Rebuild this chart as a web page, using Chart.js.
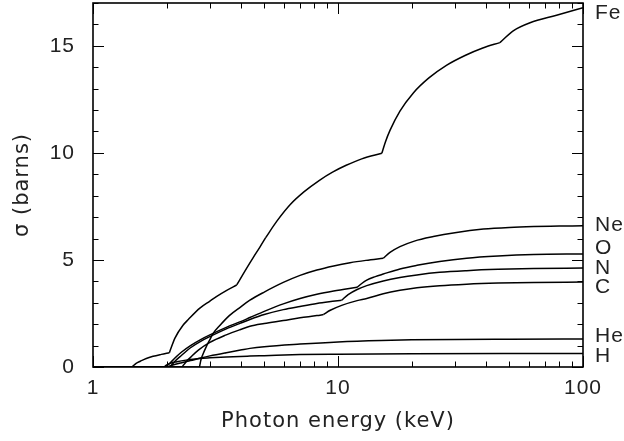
<!DOCTYPE html>
<html><head><meta charset="utf-8">
<script src="https://cdn.jsdelivr.net/npm/chart.js@4.4.1/dist/chart.umd.min.js"></script>
<style>html,body{margin:0;padding:0;background:#fff;}canvas{display:block;}</style>
</head><body>
<canvas id="c" width="624" height="441"></canvas>
<script>
// ---- data (photon energy in keV, cross section in barns) ----
const feE = [1, 1.44, 1.5, 1.56, 1.65, 1.76, 1.9, 2.05, 2.16, 2.33, 2.45, 2.73, 3.0, 3.2, 3.5, 3.86, 4.24, 4.5, 4.8, 5.06, 5.62, 6.4, 7.3, 8.4, 9.5, 10.8, 12.5, 15.1, 15.6, 16.3, 17.9, 20.3, 23.5, 27.8, 33, 39, 45.8, 51.9, 60.8, 78, 100];
const feS = [0, 0, 0.17, 0.27, 0.4, 0.5, 0.59, 0.67, 1.35, 1.95, 2.22, 2.75, 3.08, 3.3, 3.57, 3.83, 4.62, 5.1, 5.6, 6.03, 6.8, 7.6, 8.2, 8.72, 9.1, 9.42, 9.72, 9.98, 10.5, 11.05, 11.95, 12.8, 13.5, 14.1, 14.55, 14.9, 15.15, 15.7, 16.08, 16.43, 16.78];
const feEdges = [1.44, 2.05, 3.86, 5.06, 15.1, 45.8];

const neE = [1, 2.72, 2.76, 2.8, 2.9, 3.0, 3.09, 3.3, 3.6, 4.0, 4.37, 5.0, 5.98, 7.0, 8.2, 9.6, 11.2, 13.0, 15.3, 16.3, 17.9, 20.5, 24.5, 30, 39.2, 50, 62.9, 80, 100];
const neS = [0, 0, 0.35, 0.55, 0.95, 1.28, 1.56, 1.95, 2.4, 2.8, 3.12, 3.5, 3.95, 4.28, 4.53, 4.72, 4.87, 4.98, 5.08, 5.35, 5.62, 5.88, 6.09, 6.27, 6.44, 6.52, 6.56, 6.58, 6.6];
const neEdges = [2.72, 15.3];

const oE = [1, 1.97, 2.05, 2.15, 2.3, 2.5, 2.75, 3.0, 3.5, 4.0, 4.37, 5.0, 5.98, 7.0, 8.2, 9.6, 11.97, 12.5, 13.1, 14.2, 15.3, 17.9, 21, 26, 33.5, 45, 62.9, 100];
const oS = [0, 0, 0.15, 0.4, 0.7, 1.0, 1.28, 1.5, 1.85, 2.12, 2.31, 2.6, 2.95, 3.2, 3.4, 3.55, 3.72, 3.9, 4.06, 4.22, 4.34, 4.58, 4.75, 4.93, 5.08, 5.18, 5.25, 5.28];
const oEdges = [1.97, 11.97];

const nE = [1, 2.06, 2.15, 2.3, 2.5, 2.75, 3.0, 3.5, 4.0, 4.37, 5.0, 5.98, 7.0, 8.2, 9.2, 10.35, 11.0, 11.97, 13.1, 15.3, 17.9, 21, 26, 33.5, 45, 62.9, 100];
const nS = [0, 0, 0.25, 0.55, 0.9, 1.2, 1.42, 1.78, 2.05, 2.22, 2.45, 2.68, 2.83, 2.97, 3.05, 3.12, 3.38, 3.62, 3.8, 4.02, 4.18, 4.3, 4.42, 4.5, 4.56, 4.6, 4.62];
const nEdges = [2.06, 10.35];

const cE = [1, 2.31, 2.4, 2.5, 2.7, 3.0, 3.5, 4.0, 4.37, 5.0, 5.98, 7.0, 8.2, 8.72, 9.3, 10.35, 11.97, 13.1, 15.3, 17.9, 21, 26, 33.5, 45, 62.9, 100];
const cS = [0, 0, 0.25, 0.45, 0.8, 1.15, 1.5, 1.75, 1.9, 2.03, 2.17, 2.3, 2.4, 2.45, 2.65, 2.88, 3.1, 3.2, 3.42, 3.58, 3.7, 3.8, 3.87, 3.92, 3.95, 3.97];
const cEdges = [2.31, 8.72];

const heE = [1, 2.0, 2.1, 2.3, 2.5, 2.75, 3.0, 3.5, 4.0, 4.37, 5.0, 7.0, 10, 15, 20, 30, 50, 100];
const heS = [0, 0, 0.08, 0.2, 0.3, 0.42, 0.52, 0.67, 0.79, 0.87, 0.95, 1.07, 1.17, 1.24, 1.27, 1.29, 1.3, 1.31];
const heEdges = [2.0];

const hE = [1, 1.95, 2.0, 2.2, 2.5, 2.73, 3.0, 3.5, 4.37, 5.0, 7.0, 10, 20, 50, 100];
const hS = [0, 0, 0.1, 0.25, 0.35, 0.4, 0.43, 0.47, 0.51, 0.53, 0.58, 0.6, 0.62, 0.63, 0.63];
const hEdges = [1.95];

const elementNames = ['Fe', 'Ne', 'O', 'N', 'C', 'He', 'H'];
const xTickValues = [1, 10, 100];
const yTickValues = [0, 5, 10, 15];
const xTitle = 'Photon energy (keV)';
const yTitle = 'σ (barns)';

// ---- build datasets (each curve split at its edges so kinks stay sharp) ----
const series = [
  [feE, feS, feEdges], [neE, neS, neEdges], [oE, oS, oEdges], [nE, nS, nEdges],
  [cE, cS, cEdges], [heE, heS, heEdges], [hE, hS, hEdges]
];
const datasets = [];
const endPoints = [];
series.forEach(([E, S, edges], k) => {
  let cur = [];
  for (let i = 0; i < E.length; i++) {
    cur.push({x: E[i], y: S[i]});
    if (edges.includes(E[i]) && cur.length > 1 && i < E.length - 1) {
      datasets.push(mk(cur, k));
      cur = [{x: E[i], y: S[i]}];
    }
  }
  if (cur.length > 1) datasets.push(mk(cur, k));
  endPoints.push({name: elementNames[k], x: E[E.length - 1], y: S[S.length - 1]});
});
function mk(pts, k) {
  return {
    label: elementNames[k], data: pts,
    borderColor: '#000', borderWidth: 1.5, pointRadius: 0,
    cubicInterpolationMode: 'monotone', fill: false
  };
}

const TXT = '#222';
const labelFont = '21px "Liberation Sans", Arial, sans-serif';

const framePlugin = {
  id: 'frame',
  beforeDraw(chart) { chart.ctx.letterSpacing = '1px'; },
  afterDraw(chart) {
    const {ctx, chartArea: a, scales: {x, y}} = chart;
    ctx.save();
    ctx.strokeStyle = '#000';
    ctx.lineWidth = 1;
    ctx.beginPath();
    for (let v = Math.ceil(y.min); v <= y.max; v++) {
      const py = Math.round(y.getPixelForValue(v)) + 0.5;
      const len = v % 5 === 0 ? 11 : 5.5;
      ctx.moveTo(a.left, py); ctx.lineTo(a.left + len, py);
      ctx.moveTo(a.right, py); ctx.lineTo(a.right - len, py);
    }
    for (let d = 1; d < x.max; d *= 10) {
      for (let m = 1; m <= 10; m++) {
        const v = m * d;
        if (v < x.min || v > x.max) continue;
        const px = Math.round(x.getPixelForValue(v)) + 0.5;
        const len = (m === 1 || m === 10) ? 11 : 5.5;
        ctx.moveTo(px, a.bottom); ctx.lineTo(px, a.bottom - len);
        ctx.moveTo(px, a.top); ctx.lineTo(px, a.top + len);
      }
    }
    ctx.stroke();
    ctx.lineWidth = 1.6;
    ctx.strokeRect(a.left, a.top, a.right - a.left, a.bottom - a.top);

    const items = endPoints.map(p => ({name: p.name, py: y.getPixelForValue(p.y)}));
    items.sort((p, q) => p.py - q.py);
    const gap = 19.5;
    for (let it = 0; it < 60; it++) {
      for (let i = 1; i < items.length; i++) {
        const d = items[i].py - items[i - 1].py;
        if (d < gap) {
          const s = (gap - d) / 2;
          items[i - 1].py -= s; items[i].py += s;
        }
      }
      items[0].py = Math.max(items[0].py, a.top + 10);
    }
    ctx.font = labelFont;
    ctx.fillStyle = TXT;
    ctx.textAlign = 'left';
    ctx.textBaseline = 'middle';
    items.forEach(p => ctx.fillText(p.name, a.right + 12, p.py));
    ctx.restore();
  }
};

new Chart(document.getElementById('c'), {
  type: 'line',
  data: {datasets},
  options: {
    responsive: false, animation: false, devicePixelRatio: 1,
    layout: {padding: {top: 3, right: 41, left: 0, bottom: 0}},
    plugins: {legend: {display: false}, tooltip: {enabled: false}},
    scales: {
      x: {
        type: 'logarithmic', min: 1, max: 100,
        grid: {display: false, drawTicks: false}, border: {display: false},
        afterBuildTicks: s => { s.ticks = xTickValues.map(v => ({value: v})); },
        afterFit: s => { s.height = 74; s.paddingLeft = 0; s.paddingRight = 0; },
        ticks: {
          font: {family: '"Liberation Sans", Arial, sans-serif', size: 21},
          color: TXT, padding: 9, maxRotation: 0, autoSkip: false,
          callback: v => String(v)
        },
        title: {
          display: true, text: xTitle, color: TXT,
          font: {family: '"DejaVu Sans", sans-serif', size: 21},
          padding: {top: 0, bottom: 7}
        }
      },
      y: {
        min: 0, max: 17,
        grid: {display: false, drawTicks: false}, border: {display: false},
        afterBuildTicks: s => { s.ticks = yTickValues.map(v => ({value: v})); },
        afterFit: s => { s.width = 93; s.paddingTop = 0; s.paddingBottom = 0; },
        ticks: {
          font: {family: '"Liberation Sans", Arial, sans-serif', size: 21},
          color: TXT, padding: 18, callback: v => String(v)
        },
        title: {
          display: true, text: yTitle, color: TXT,
          font: {family: '"DejaVu Sans", sans-serif', size: 21},
          padding: {top: 10, bottom: 0}
        }
      }
    }
  },
  plugins: [framePlugin]
});
</script>
</body></html>
